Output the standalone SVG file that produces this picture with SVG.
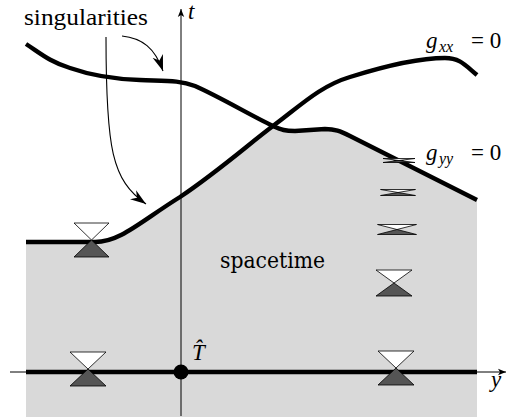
<svg xmlns="http://www.w3.org/2000/svg" width="507" height="420" viewBox="0 0 507 420">
<style>
.thick{fill:none;stroke:#000;stroke-width:4.4;stroke-linecap:butt;stroke-linejoin:round}
.axis{fill:none;stroke:#000;stroke-width:1}
.thin{fill:none;stroke:#000;stroke-width:1.1}
.up{fill:#fff;stroke:#000;stroke-width:0.8;stroke-linejoin:miter}
.dn{fill:#555;stroke:#000;stroke-width:0.8;stroke-linejoin:miter}
.rm{font-size:23px;font-style:normal}
.it{font-style:italic;font-size:23px}
.sub{font-style:italic;font-size:16px}
</style>
<defs>
<marker id="stealth" viewBox="-16 -6 18 12" markerWidth="18" markerHeight="12" refX="0" refY="0" orient="auto" markerUnits="userSpaceOnUse">
<path d="M0,0 L-16,-5.5 L-11,0 L-16,5.5 Z" fill="#000"/>
</marker>
<marker id="ax" viewBox="-8 -4 9 8" markerWidth="9" markerHeight="8" refX="0" refY="0" orient="auto" markerUnits="userSpaceOnUse">
<path d="M0,0 L-8,-3.2 L-6,0 L-8,3.2 Z" fill="#000"/>
</marker>
</defs>
<g id="spacetime-region">
<path d="M26,242 L95,242 C120,242 140,222 180,197 C220,170 250,143 273,126 C282,130 285,131 295,131 L325,129 C335,129 340,131 350,136 L477,200 L477,417 L26,417 Z" fill="#d9d9d9"/>
</g>
<g id="axes">
<line class="axis" x1="181" y1="416" x2="181" y2="9" marker-end="url(#ax)"/>
<line class="axis" x1="10" y1="372" x2="506" y2="372" marker-end="url(#ax)"/>
</g>
<g id="curves">
<path id="gyy-curve" class="thick" d="M26,44 C40,53 50,62 70,68 C90,75 110,79 140,80 C165,81 180,80 195,86 C220,97 250,115 273,126 C282,130 285,131 295,131 L325,129 C335,129 340,131 350,136 L477,200"/>
<path id="gxx-curve" class="thick" d="M26,242 L95,242 C120,242 140,222 180,197 C220,170 250,143 273,126 C300,106 320,86 350,77 C385,66 420,58 445,58 C460,58 465,65 477,75"/>
<line id="initial-surface" class="thick" x1="26" y1="372" x2="477" y2="372"/>
</g>
<g id="connectors">
<path class="thin" d="M122,36 C142,38 155,48 163,71" marker-end="url(#stealth)"/>
<path class="thin" d="M106,37 C106,150 112,180 146,204" marker-end="url(#stealth)"/>
</g>
<g id="cone1"><polygon class="up" points="74,223 109,223 91.5,240"/><polygon class="dn" points="91.5,240 74,257 109,257"/></g>
<g id="cone2"><polygon class="up" points="70,352 106,352 88,369"/><polygon class="dn" points="88,369 70,386 106,386"/></g>
<g id="cone3"><polygon class="up" points="378,351 414,351 396,368"/><polygon class="dn" points="396,368 378,385 414,385"/></g>
<g id="cone4"><polygon class="up" points="376,270 412,270 394,283"/><polygon class="dn" points="394,283 376,296 412,296"/></g>
<g id="cone5"><polygon class="up" points="377.5,224.5 416.5,224.5 397,229.5"/><polygon class="dn" points="397,229.5 377.5,234.5 416.5,234.5"/></g>
<g id="cone6"><polygon class="up" points="380.5,189.5 415.5,189.5 398,192.5"/><polygon class="dn" points="398,192.5 380.5,195.5 415.5,195.5"/></g>
<g id="cone7"><polygon class="up" points="383,158.5 415,158.5 399,160.5"/><polygon class="dn" points="399,160.5 383,162.5 415,162.5"/></g>
<g id="point-T">
<circle cx="181" cy="372" r="7.5" fill="#000"/>
<text class="it" font-family="Liberation Serif, DejaVu Serif, serif" x="192" y="360">T̂</text>
</g>
<g id="labels" font-family="Liberation Serif, DejaVu Serif, serif">
<text class="rm" font-family="Liberation Serif, serif" x="24" y="25" textLength="124" lengthAdjust="spacingAndGlyphs">singularities</text>
<text class="rm" font-family="DejaVu Serif, serif" x="220" y="268" textLength="105" lengthAdjust="spacingAndGlyphs">spacetime</text>
<text class="it" font-family="Liberation Serif, serif" x="188" y="19">t</text>
<text class="it" font-family="Liberation Serif, serif" x="491" y="387">y</text>
<text class="it" font-family="Liberation Serif, serif" x="426" y="48">g<tspan class="sub" x="439" dy="4">xx</tspan><tspan class="rm" x="471" dy="-4">= 0</tspan></text>
<text class="it" font-family="Liberation Serif, serif" x="426" y="160">g<tspan class="sub" x="439" dy="4">yy</tspan><tspan class="rm" x="471" dy="-4">= 0</tspan></text>
</g>
</svg>
